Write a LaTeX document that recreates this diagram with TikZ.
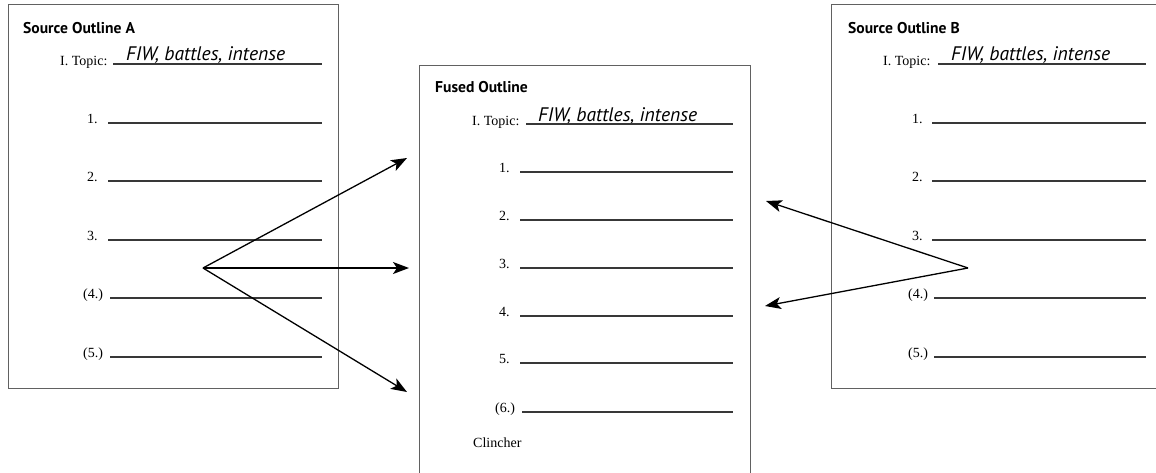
\documentclass[tikz,border=0pt]{standalone}
\usepackage{fontspec}
\setmainfont{Liberation Serif}
\newfontfamily\titlefont{PT Sans}
\usetikzlibrary{arrows.meta}
\tikzset{
  outlinebox/.style={draw=black!62, line width=1.1pt, fill=none},
  ttl/.style={anchor=base west, inner sep=0pt, font=\titlefont\bfseries\fontsize{15.6}{17}\selectfont},
  lbl/.style={anchor=base west, inner sep=0pt, font=\fontsize{14}{16}\selectfont},
  hand/.style={anchor=base west, inner sep=0pt, font=\titlefont\itshape\fontsize{19.6}{21}\selectfont},
  rule/.style={draw=black!78, line width=1.2pt},
  arr/.style={draw=black, line width=1.3pt, -{Stealth[length=16pt,width=12pt,inset=4pt]}}
}
\begin{document}
\begin{tikzpicture}[x=1pt,y=-1pt]
\clip (0,0) rectangle (1156,472);
\fill[white] (0,0) rectangle (1156,472);
% boxes
\node[outlinebox, anchor=north west, minimum width=330pt, minimum height=384pt, inner sep=0pt] (boxA) at (8,4) {};
\node[outlinebox, anchor=north west, minimum width=331pt, minimum height=420pt, inner sep=0pt] (boxF) at (419,65) {};
\node[outlinebox, anchor=north west, minimum width=340pt, minimum height=384pt, inner sep=0pt] (boxB) at (831,4) {};

% ---------- Source Outline A ----------
\node[ttl] (tA) at (23,33) {Source Outline A};
\node[lbl] (topA) at (60,65) {I. Topic:};
\node[hand] (hA) at (126,60) {FIW, battles, intense};
\coordinate (a0s) at (113,64); \coordinate (a0e) at (322,64);
\draw[rule] (a0s) -- (a0e);
\foreach \n/\y/\lx/\ls in {1./123/87/108, 2./181/87/108, 3./240/87/108, (4.)/298/83/110, (5.)/357/83/110}{
  \node[lbl] at (\lx,\y) {\n};
  \draw[rule] (\ls,\y) -- (322,\y);
}

% ---------- Fused Outline ----------
\node[ttl] (tF) at (435,92) {Fused Outline};
\node[lbl] (topF) at (472,125) {I. Topic:};
\node[hand] (hF) at (538,121) {FIW, battles, intense};
\coordinate (f0s) at (526,124); \coordinate (f0e) at (733,124);
\draw[rule] (f0s) -- (f0e);
\foreach \n/\y/\lx/\ls in {1./172/499/520, 2./220/499/520, 3./268/499/520, 4./316/499/520, 5./363/499/520, (6.)/412/495/522}{
  \node[lbl] at (\lx,\y) {\n};
  \draw[rule] (\ls,\y) -- (733,\y);
}
\node[lbl] (clF) at (473,447) {Clincher};

% ---------- Source Outline B ----------
\node[ttl] (tB) at (848,33) {Source Outline B};
\node[lbl] (topB) at (883,65) {I. Topic:};
\node[hand] (hB) at (951,60) {FIW, battles, intense};
\coordinate (b0s) at (938,64); \coordinate (b0e) at (1146,64);
\draw[rule] (b0s) -- (b0e);
\foreach \n/\y/\lx/\ls in {1./123/912/932, 2./181/912/932, 3./240/912/932, (4.)/298/908/934, (5.)/357/908/934}{
  \node[lbl] at (\lx,\y) {\n};
  \draw[rule] (\ls,\y) -- (1146,\y);
}

% ---------- arrows ----------
\coordinate (hubA) at (203,268);
\coordinate (tA1) at (407,158);
\coordinate (tA2) at (409,268);
\coordinate (tA3) at (407,392);
\draw[arr] (hubA) -- (tA1);
\draw[arr] (hubA) -- (tA2);
\draw[arr] (hubA) -- (tA3);
\coordinate (hubB) at (968,268);
\coordinate (tB1) at (766,201);
\coordinate (tB2) at (765,306);
\draw[arr] (hubB) -- (tB1);
\draw[arr] (hubB) -- (tB2);
\end{tikzpicture}
\end{document}
